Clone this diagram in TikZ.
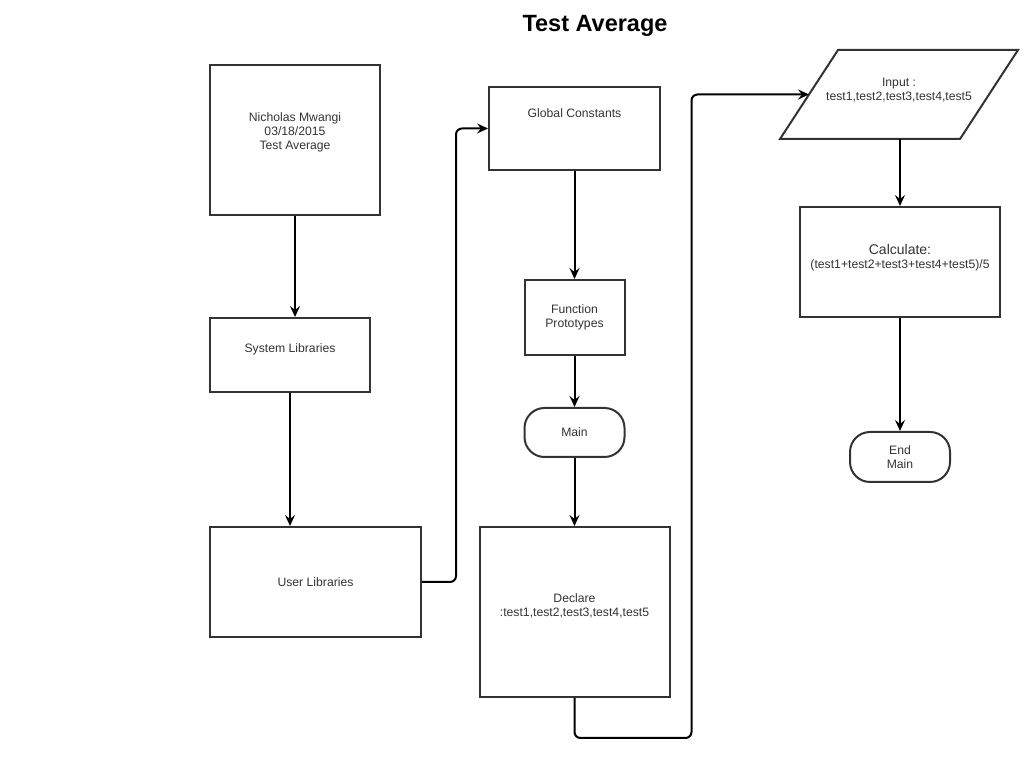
\documentclass[tikz,border=0pt]{standalone}
\usepackage{fontspec}
\setmainfont{Liberation Sans}
\usetikzlibrary{arrows.meta,positioning}
\definecolor{edge}{HTML}{333333}

\begin{document}
\begin{tikzpicture}[x=1pt, y=1pt, >={Stealth[length=11pt,width=10pt,inset=4pt]}, on grid,
                font=\fontsize{12.2}{14}\selectfont, every node/.style={text=edge},
                box/.style={draw=edge, line width=2pt, align=center, inner sep=2pt},
                term/.style={box, rounded corners=20pt},
                lbl/.style={align=center, anchor=center},
                flow/.style={->, line width=2pt, draw=black}]
                \useasboundingbox (0,0) rectangle (1025,762);
                \node[font=\bfseries\fontsize{23.5}{28}\selectfont, text=black] (title) at (595,736) {Test Average};
                \node[box, minimum width=170pt, minimum height=150pt, label={[lbl, yshift=8pt]center:Nicholas Mwangi\\03/18/2015\\Test Average}] (hdr) at (295,622) {};
                \node[box, minimum width=160pt, minimum height=74pt, below left=215pt and 5pt of hdr, label={[lbl, yshift=6pt]center:System Libraries}] (sys) {};
                \node[box, minimum width=211pt, minimum height=110pt, below right=227pt and 25.5pt of sys] (usr) {User Libraries};
                \node[box, minimum width=171pt, minimum height=83pt, label={[lbl, yshift=-27pt]north:Global Constants}] (glob) at (574.5,633.5) {};
                \node[box, minimum width=100pt, minimum height=75pt, below=189pt of glob] (func) {Function\\Prototypes};
                \node[term, minimum width=100pt, minimum height=49pt, below=115pt of func] (main) {Main};
                \node[box, minimum width=190pt, minimum height=170pt, below=179.5pt of main, label={[lbl, yshift=6pt]center:Declare\\:test1,test2,test3,test4,test5}] (decl) {};
                \draw[draw=edge, line width=2pt] (780,623) -- (838,712) -- (1018,712) -- (960,623) -- cycle;
                \node[align=center] (inp) at (899,672) {Input :\\test1,test2,test3,test4,test5};
                \coordinate (inpl) at (809,667.5);
                \coordinate (inpb) at (900,623);
                \node[box, minimum width=200pt, minimum height=110pt, label={[lbl, yshift=4pt]center:{\fontsize{14}{16}\selectfont Calculate:}\\(test1+test2+test3+test4+test5)/5}] (calc) at (900,500) {};
                \node[term, minimum width=100pt, minimum height=50pt, below=195pt of calc] (endm) {End\\Main};

                \draw[flow] (hdr.south) -- (hdr.south |- sys.north);
                \draw[flow] (sys.south) -- (sys.south |- usr.north);
                \draw[flow, rounded corners=6pt] (usr.east) -- ++(34,0) |- (glob.west);
                \draw[flow] (glob.south) -- (func.north);
                \draw[flow] (func.south) -- (main.north);
                \draw[flow] (main.south) -- (decl.north);
                \draw[flow, rounded corners=6pt] (decl.south) -- ++(0,-40) -- ++(117,0) |- (inpl);
                \draw[flow] (inpb) -- (calc.north);
                \draw[flow] (calc.south) -- (endm.north);
\end{tikzpicture}
\end{document}
